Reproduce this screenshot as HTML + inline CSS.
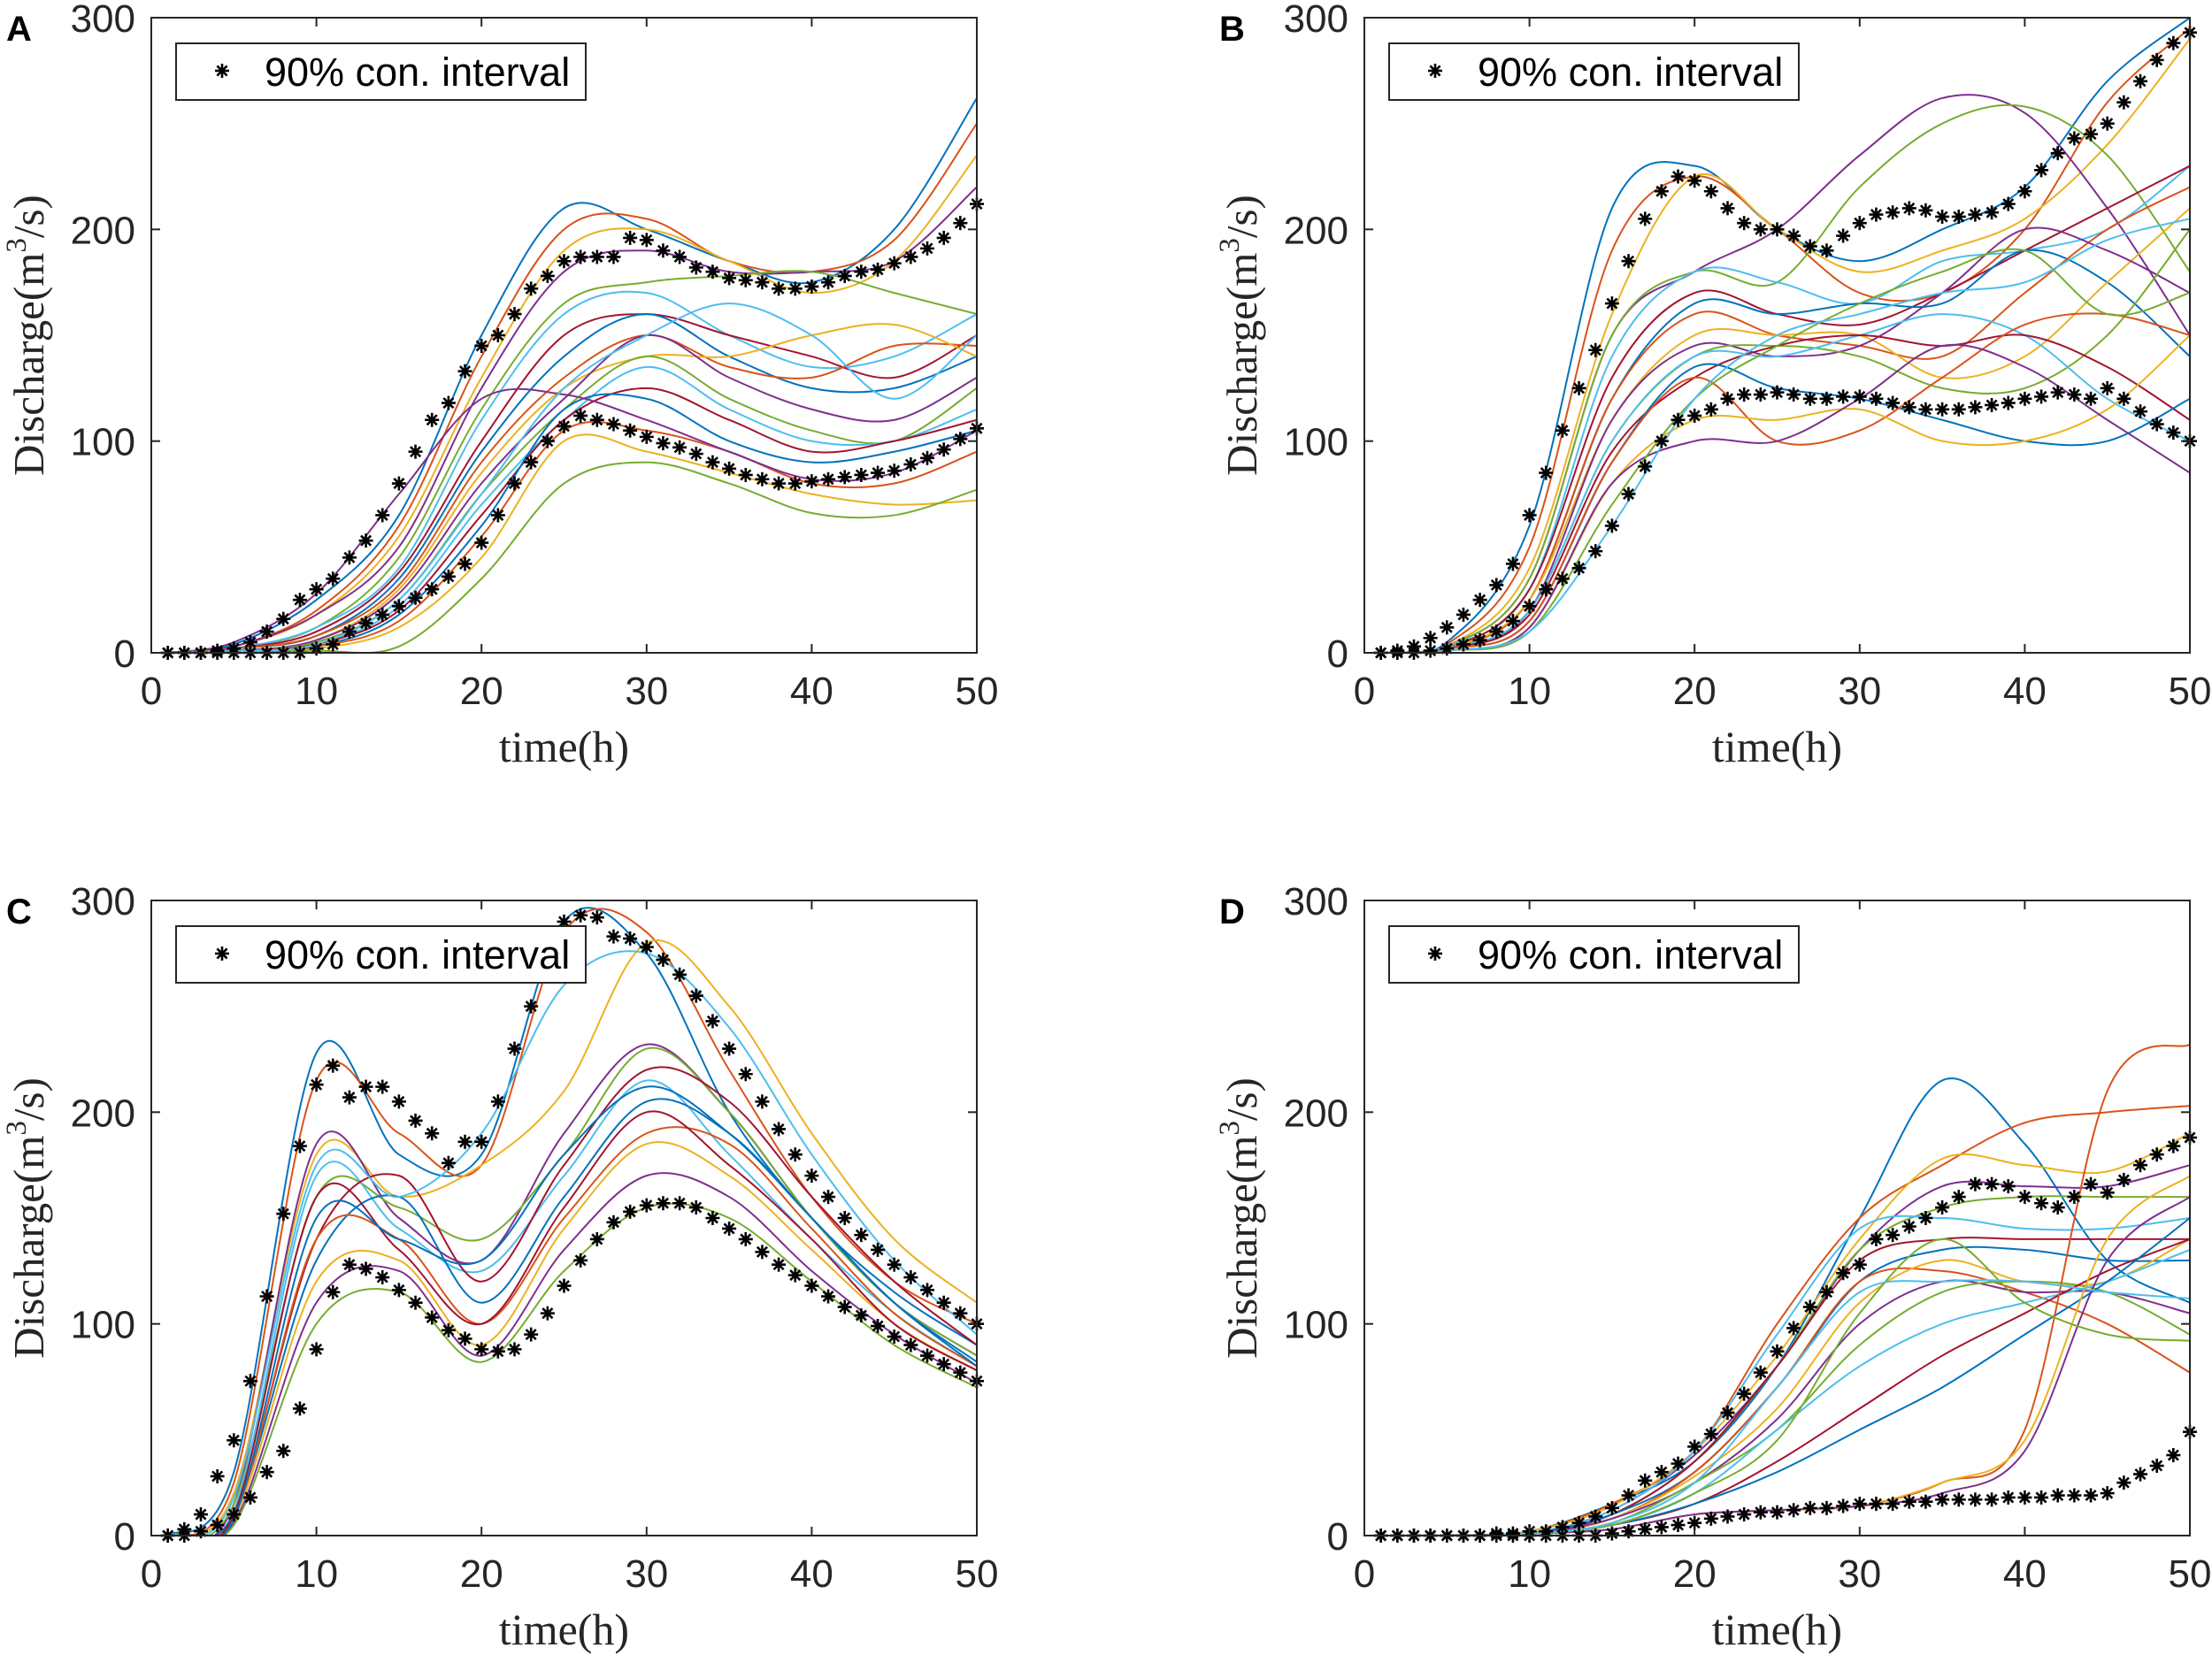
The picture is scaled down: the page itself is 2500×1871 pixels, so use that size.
<!DOCTYPE html>
<html><head><meta charset="utf-8"><style>
html,body{margin:0;padding:0;background:#fff}
svg{display:block}
text{font-family:"Liberation Sans",Arial,sans-serif}
.serif{font-family:"Liberation Serif","Times New Roman",serif}
</style></head><body>
<svg id="fig" width="2500" height="1871" viewBox="0 0 2500 1871" xmlns="http://www.w3.org/2000/svg"></svg>
<script>
const tKeys=[1,5,10,15,20,25,30,35,40,45,50];
const xTicks=[0,10,20,30,40,50];
const yTicks=[0,100,200,300];
const colors=["#0072BD","#D95319","#EDB120","#7E2F8E","#77AC30","#4DBEEE","#A2142F"];
const linesA=[
[0,4,25,65,150,210,200,185,175,200,262],[0,3,20,60,140,200,205,185,180,195,250],
[0,3,18,55,130,190,200,185,170,185,235],[0,3,18,50,125,180,190,180,180,185,220],
[0,2,12,45,115,165,175,178,180,170,160],[0,2,12,40,110,160,170,150,135,140,160],
[0,2,10,38,100,150,160,150,140,130,150],[0,2,8,35,95,140,160,140,125,125,140],
[0,2,8,32,90,130,150,135,130,145,145],[0,1,6,30,85,125,140,140,150,155,140],
[0,1,6,28,80,120,150,130,115,110,130],[0,1,5,25,75,115,140,120,105,100,125],
[0,1,4,22,70,110,135,115,100,100,115],[0,1,4,20,65,110,125,110,95,100,110],
[0,1,3,18,60,115,120,100,90,95,105],[0,1,3,15,55,105,105,95,80,80,95],
[0,1,2,12,45,100,95,85,75,70,72],[0,5,28,75,120,122,110,95,82,85,105],
[0,1,1,3,35,80,90,80,66,65,77],[0,1,4,25,75,125,150,165,150,120,150]];
const linesB=[
[0,5,60,210,230,200,185,200,220,270,300],[0,4,50,190,225,200,170,170,200,260,295],
[0,3,40,160,225,200,180,190,205,240,290],[0,3,35,150,180,200,235,262,255,210,150],
[0,3,35,150,180,175,220,250,258,235,180],[0,3,30,140,180,175,165,185,190,200,230],
[0,2,30,130,170,160,155,170,190,210,230],[0,2,25,120,165,160,165,165,190,175,140],
[0,2,25,120,160,150,145,140,170,200,220],[0,2,25,110,150,150,150,130,140,175,210],
[0,2,20,110,145,140,145,170,200,190,170],[0,2,20,100,140,145,140,125,125,150,200],
[0,2,20,100,140,140,150,160,150,120,100],[0,2,18,95,130,145,150,145,150,135,110],
[0,2,15,90,135,125,120,110,100,100,120],[0,2,15,90,130,100,105,130,155,160,150],
[0,1,12,80,110,110,115,100,100,115,150],[0,1,12,80,100,100,120,145,135,110,85],
[0,1,10,70,120,145,165,180,190,160,170],[0,1,10,60,120,150,160,170,175,195,205]];
const linesC=[
[0,30,228,180,180,290,275,200,150,115,90],[0,25,215,190,175,285,285,220,160,120,100],
[0,20,180,160,175,210,280,250,190,140,110],[0,15,185,150,130,190,232,200,150,110,85],
[0,15,160,155,140,180,230,200,150,110,85],[0,12,170,145,125,170,215,180,140,105,80],
[0,10,140,170,120,175,220,205,160,120,90],[0,10,130,160,110,160,205,190,150,110,82],
[0,8,140,140,100,150,190,185,145,105,80],[0,8,120,130,90,145,185,170,135,100,78],
[0,6,110,125,85,135,170,160,125,95,72],[0,5,100,115,82,125,155,150,120,90,70],
[0,18,175,160,190,260,275,240,180,130,95],[0,10,160,135,100,155,200,175,140,100,78],
[0,8,150,140,130,180,212,190,150,110,80]];
const linesD=[
[0,0,2,15,35,80,150,215,185,130,110],[0,0,2,15,40,100,150,175,195,200,203],
[0,0,2,14,40,85,140,178,175,172,190],[0,0,1,12,38,80,135,165,165,165,175],
[0,0,1,10,35,80,135,155,160,160,160],[0,0,1,12,40,95,145,150,145,145,150],
[0,0,1,10,35,80,130,140,140,140,140],[0,0,1,10,30,70,120,135,135,130,130],
[0,0,1,8,30,70,120,125,115,100,77],[0,0,1,8,28,60,110,130,120,120,140],
[0,0,1,8,25,55,100,120,115,115,105],[0,0,1,6,25,50,90,115,120,115,95],
[0,0,1,5,20,50,80,100,110,120,135],[0,0,1,5,15,35,60,85,105,125,140],
[0,0,1,5,15,30,50,70,95,120,150],[0,0,1,3,10,12,14,25,50,210,232],
[0,0,1,3,10,12,14,25,45,140,170],[0,0,1,3,10,12,14,20,40,130,160],
[0,0,1,5,20,45,105,140,110,95,92],[0,0,1,6,25,70,115,120,120,115,112]];
const upA=[0,0,0,1,2,5,10,16,25,30,35,45,53,65,80,95,110,118,133,145,150,160,172,178,185,187,187,187,196,195,190,187,182,180,177,176,175,172,172,173,175,178,180,181,184,187,191,196,203,212];
const loA=[0,0,0,0,0,0,0,0,0,2,4,10,14,18,22,26,30,36,42,52,65,80,90,100,107,112,110,108,105,102,99,97,94,90,87,84,82,80,80,81,82,83,84,85,86,89,92,96,101,106];
const upB=[0,1,3,7,12,18,25,32,42,65,85,105,125,143,165,185,205,218,225,223,218,210,203,200,200,197,192,190,197,203,207,208,210,209,206,206,207,208,212,218,228,236,243,245,250,260,270,280,288,293];
const loB=[0,0,0,1,2,4,6,10,15,22,30,35,40,48,60,75,88,100,110,112,115,120,122,122,123,122,120,120,121,121,120,118,116,115,115,115,116,117,118,120,121,123,122,120,125,120,114,108,104,100];
const upC=[0,3,10,28,45,73,113,152,184,213,222,207,212,212,205,196,190,176,186,186,205,230,250,275,290,293,292,283,282,278,272,265,255,243,230,218,205,192,180,170,160,150,142,135,128,122,116,110,105,100];
const loC=[0,0,2,5,10,18,30,40,60,88,115,128,126,122,116,110,103,97,93,88,87,88,95,105,118,130,140,148,153,156,157,157,155,150,145,140,134,128,123,118,113,108,104,99,94,90,85,81,77,73];
const upD=[0,0,0,0,0,0,0,1,1,2,2,4,6,9,13,19,26,30,34,42,48,58,67,77,87,98,108,115,124,128,140,142,146,150,155,160,166,166,165,160,157,155,160,166,162,168,175,180,184,188];
const loD=[0,0,0,0,0,0,0,0,0,0,0,0,0,0,1,2,3,4,5,6,8,9,10,11,11,12,13,13,14,15,15,15,16,16,17,17,17,17,18,18,18,19,19,19,20,25,29,33,38,49];

const NS="http://www.w3.org/2000/svg";
const fig=document.getElementById('fig');
function el(tag,attrs,parent){const e=document.createElementNS(NS,tag);for(const k in attrs)e.setAttribute(k,attrs[k]);(parent||fig).appendChild(e);return e;}
function smooth(pts){let d=`M${pts[0][0]},${pts[0][1]}`;for(let i=0;i<pts.length-1;i++){const p0=pts[Math.max(0,i-1)],p1=pts[i],p2=pts[i+1],p3=pts[Math.min(pts.length-1,i+2)];
const c1=[p1[0]+(p2[0]-p0[0])/6,p1[1]+(p2[1]-p0[1])/6],c2=[p2[0]-(p3[0]-p1[0])/6,p2[1]-(p3[1]-p1[1])/6];
d+=` C${c1[0]},${c1[1]} ${c2[0]},${c2[1]} ${p2[0]},${p2[1]}`;}return d;}

const panels=[
{id:'a',letter:'A',L:171,T:20,lines:linesA,up:upA,lo:loA},
{id:'b',letter:'B',L:1542,T:20,lines:linesB,up:upB,lo:loB},
{id:'c',letter:'C',L:171,T:1018,lines:linesC,up:upC,lo:loC},
{id:'d',letter:'D',L:1542,T:1018,lines:linesD,up:upD,lo:loD}];
const W=933,H=718;
panels.forEach(p=>{
 const g=el('g',{});
 
 
 const sx=v=>p.L+v/50*W, sy=v=>p.T+H-v/300*H;
 const clipId='clip'+p.id;
 const cp=el('clipPath',{id:clipId},g);el('rect',{x:p.L,y:p.T,width:W,height:H},cp);
 const lg=el('g',{'clip-path':`url(#${clipId})`},g);
 
 
 p.lines.forEach((s,i)=>{
  const path=el('path',{d:smooth(s.map((v,k)=>[sx(tKeys[k]),sy(v)])),fill:'none',stroke:colors[i%7],'stroke-width':2},lg);
  
  
 });
 [['upper',p.up],['lower',p.lo]].forEach(([nm,arr])=>{
  const sg=el('g',{stroke:'#000','stroke-width':2.6},g);
  
  
  arr.forEach((v,k)=>{const cx=sx(k+1),cy=sy(v),r=8;
   el('line',{x1:cx-r,y1:cy,x2:cx+r,y2:cy},sg);
   el('line',{x1:cx,y1:cy-r,x2:cx,y2:cy+r},sg);
   el('line',{x1:cx-r*.7,y1:cy-r*.7,x2:cx+r*.7,y2:cy+r*.7},sg);
   el('line',{x1:cx-r*.7,y1:cy+r*.7,x2:cx+r*.7,y2:cy-r*.7},sg);});
 });
 const box=el('rect',{x:p.L,y:p.T,width:W,height:H,fill:'none',stroke:'#262626','stroke-width':2},g);
 
 
 xTicks.forEach(v=>{const x=sx(v);
  el('line',{x1:x,y1:p.T+H,x2:x,y2:p.T+H-10,stroke:'#262626','stroke-width':2},g);
  el('line',{x1:x,y1:p.T,x2:x,y2:p.T+10,stroke:'#262626','stroke-width':2},g);
  const t=el('text',{x:x,y:p.T+H+58,'font-size':44,'text-anchor':'middle',fill:'#262626'},g);t.textContent=v;
  
  });
 yTicks.forEach(v=>{const y=sy(v);
  el('line',{x1:p.L,y1:y,x2:p.L+10,y2:y,stroke:'#262626','stroke-width':2},g);
  el('line',{x1:p.L+W,y1:y,x2:p.L+W-10,y2:y,stroke:'#262626','stroke-width':2},g);
  const t=el('text',{x:p.L-18,y:y+16,'font-size':44,'text-anchor':'end',fill:'#262626'},g);t.textContent=v;
  
  });
 const xl=el('text',{x:p.L+W/2,y:p.T+H+123,'font-size':50,'text-anchor':'middle',fill:'#262626',class:'serif'},g);
 xl.textContent='time(h)';
 
 
 const yl=el('text',{x:0,y:0,'font-size':49,'text-anchor':'middle',fill:'#262626',class:'serif',transform:`translate(${p.L-122},${p.T+H/2}) rotate(-90)`},g);
 yl.innerHTML='Discharge(m<tspan dy="-20" font-size="33">3</tspan><tspan dy="20">/s)</tspan>';
 
 
 const lt=el('text',{x:p.L-164,y:p.T+26,'font-size':40,'font-weight':'bold',fill:'#000'},g);
 lt.textContent=p.letter;
 
 
 const leg=el('g',{},g);
 
 
 el('rect',{x:p.L+28,y:p.T+29,width:463,height:64,fill:'#fff',stroke:'#262626','stroke-width':2},leg);
 const lx=p.L+80,ly=p.T+60,r=8;
 el('line',{x1:lx-r,y1:ly,x2:lx+r,y2:ly,stroke:'#000','stroke-width':2.6},leg);
 el('line',{x1:lx,y1:ly-r,x2:lx,y2:ly+r,stroke:'#000','stroke-width':2.6},leg);
 el('line',{x1:lx-r*.7,y1:ly-r*.7,x2:lx+r*.7,y2:ly+r*.7,stroke:'#000','stroke-width':2.6},leg);
 el('line',{x1:lx-r*.7,y1:ly+r*.7,x2:lx+r*.7,y2:ly-r*.7,stroke:'#000','stroke-width':2.6},leg);
 const ltx=el('text',{x:p.L+128,y:p.T+77,'font-size':45,fill:'#000'},leg);
 ltx.textContent='90% con. interval';
 
 
});
</script>
</body></html>
